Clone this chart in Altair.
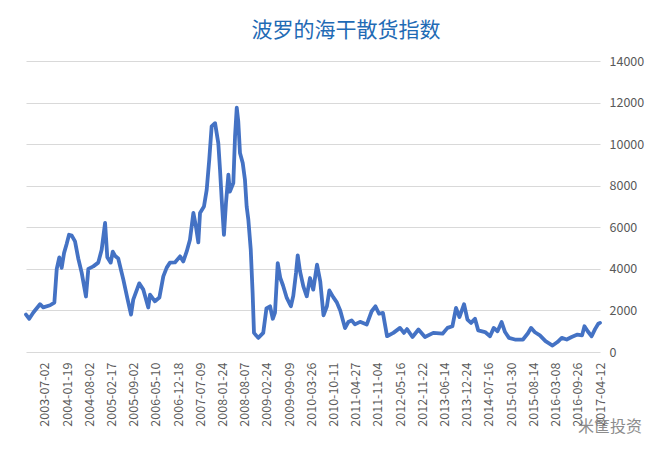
import altair as alt
import pandas as pd

# trading-day index of each sampled point (0 = first trading day shown)
day = [0, 19, 43, 82, 101, 141, 166, 180, 195, 209, 223, 238, 252, 268, 287, 306, 326, 351, 365, 394,
       423, 443, 463, 476, 496, 508, 521, 540, 570, 593, 615, 628, 663, 687, 716, 726, 755, 781, 804, 824,
       843, 872, 902, 921, 941, 960, 980, 995, 1009, 1019, 1042, 1058, 1073, 1087, 1107, 1126, 1136, 1146,
       1159, 1171, 1185, 1194, 1214, 1224, 1234, 1243, 1253, 1269, 1282, 1292, 1302, 1316, 1327, 1335,
       1360, 1389, 1408, 1429, 1445, 1458, 1474, 1489, 1505, 1527, 1551, 1565, 1581, 1591, 1604, 1624,
       1644, 1663, 1682, 1704, 1723, 1742, 1762, 1776, 1799, 1819, 1840, 1868, 1887, 1907, 1926, 1956,
       1995, 2024, 2046, 2067, 2090, 2114, 2151, 2190, 2213, 2231, 2263, 2298, 2336, 2385, 2439, 2468,
       2497, 2518, 2538, 2565, 2585, 2606, 2629, 2648, 2688, 2717, 2739, 2761, 2785, 2805, 2828, 2863,
       2910, 2939, 2957, 2980, 3009, 3042, 3083, 3112, 3137, 3166, 3195, 3229, 3256, 3270, 3289, 3312,
       3332, 3351, 3361]

bdi = [1800, 1600, 1900, 2300, 2150, 2250, 2380, 4000, 4550, 4050, 4770, 5200, 5640, 5600, 5320, 4500,
       3820, 2670, 4000, 4120, 4300, 4920, 6210, 4560, 4300, 4830, 4630, 4500, 3480, 2600, 1800, 2520,
       3300, 3000, 2140, 2760, 2440, 2620, 3640, 4060, 4300, 4310, 4600, 4360, 4840, 5400, 6690, 6040,
       5270, 6690, 7000, 7800, 9250, 10850, 11010, 10050, 8770, 7330, 5640, 7170, 8530, 7720, 8130,
       10370, 11750, 11090, 9570, 9090, 8290, 7000, 6360, 4920, 2840, 920, 680, 920, 2100, 2200, 1600,
       1900, 4280, 3560, 3200, 2600, 2200, 2700, 3800, 4650, 3900, 3160, 2680, 3560, 3000, 4200, 3400,
       1760, 2200, 2960, 2640, 2400, 2000, 1150, 1440, 1520, 1330, 1450, 1320, 1960, 2200, 1840, 1880,
       760, 920, 1160, 920, 1100, 720, 1080, 720, 920, 880, 1160, 1240, 2120, 1680, 2300, 1560, 1400,
       1600, 1040, 960, 760, 1160, 1000, 1440, 960, 680, 600, 600, 900, 1160, 950, 800, 520, 310, 480,
       680, 600, 720, 840, 800, 1240, 1000, 760, 1100, 1360, 1400]

tick_labels = ["2003-07-02", "2004-01-19", "2004-08-02", "2005-02-17", "2005-09-02", "2006-05-10",
               "2006-12-18", "2007-07-09", "2008-01-24", "2008-08-07", "2009-02-24", "2009-09-09",
               "2010-03-26", "2010-10-11", "2011-04-27", "2011-11-04", "2012-05-16", "2012-11-22",
               "2013-06-14", "2013-12-24", "2014-07-16", "2015-01-30", "2015-08-14", "2016-03-08",
               "2016-09-26", "2017-04-12"]
tick_first = 111
tick_step = 130
y_ticks = [0, 2000, 4000, 6000, 8000, 10000, 12000, 14000]

df = pd.DataFrame({"day": day, "bdi": bdi})
tick_pos = [tick_first + tick_step * i for i in range(len(tick_labels))]
label_arr = "[" + ",".join("'" + s + "'" for s in tick_labels) + "]"
label_expr = f"{label_arr}[round((datum.value - {tick_first}) / {tick_step})]"

FONT = "Noto Sans CJK SC"
GREY = "#595959"

line = alt.Chart(df).mark_line(color="#4472C4", strokeWidth=3.8, strokeJoin="round", strokeCap="round").encode(
    x=alt.X("day:Q",
            scale=alt.Scale(domain=[0, day[-1]], nice=False, zero=False),
            axis=alt.Axis(values=tick_pos, labelExpr=label_expr, labelAngle=-90, title=None,
                          grid=False, ticks=False, domain=False, labelPadding=10,
                          labelFont=FONT, labelFontSize=12.5, labelColor=GREY, labelOverlap=False)),
    y=alt.Y("bdi:Q",
            scale=alt.Scale(domain=[0, 14000], nice=False),
            axis=alt.Axis(orient="right", values=y_ticks, format="d", title=None, grid=True,
                          gridColor="#d9d9d9", gridWidth=1, ticks=False, domain=False, labelPadding=9,
                          labelFont=FONT, labelFontSize=12.5, labelColor=GREY)),
)

mark_df = pd.DataFrame({"t": ["米筐投资"]})
watermark = alt.Chart(mark_df).mark_text(font=FONT, fontSize=16, color="#8c8c8c", align="left",
                                         baseline="middle").encode(
    text="t:N", x=alt.value(552), y=alt.value(366))

chart = alt.layer(line, watermark).properties(
    width=574, height=291,
    autosize=alt.AutoSizeParams(type="none"),
    padding={"left": 18, "top": 53, "right": 50, "bottom": 95},
    title=alt.TitleParams("波罗的海干散货指数", font=FONT, fontSize=21, fontWeight="normal",
                          color="#1F6BB5", anchor="middle", dx=33, offset=14),
).configure_view(stroke=None)

chart.save("out.html", embed_options={"renderer": "svg", "actions": False})
